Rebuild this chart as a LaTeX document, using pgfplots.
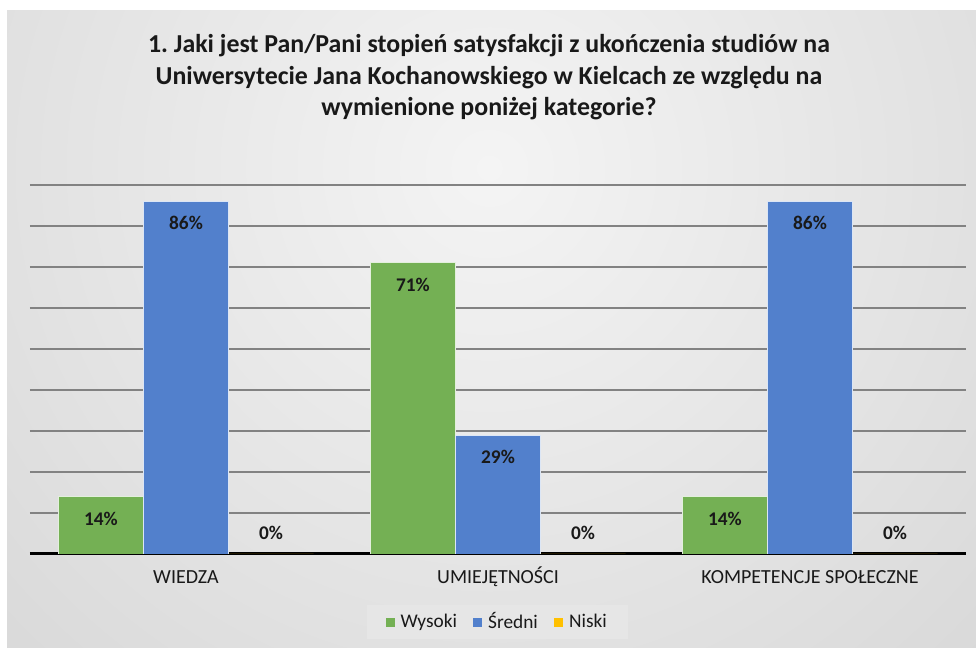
\documentclass[border=0pt]{standalone}
\usepackage{pgfplots}
\pgfplotsset{compat=1.18}
\usepackage{fontspec}
\setmainfont{Carlito}
\frenchspacing
\definecolor{cgreen}{RGB}{116,176,84}
\definecolor{cblue}{RGB}{82,128,204}
\definecolor{cyellow}{RGB}{255,192,0}
\definecolor{cgrid}{RGB}{130,130,130}
\definecolor{bgin}{RGB}{244,244,244}
\definecolor{bgout}{RGB}{192,192,192}
\definecolor{legfill}{RGB}{230,230,230}
\definecolor{txt}{RGB}{25,25,25}
\begin{document}
\begin{tikzpicture}
\useasboundingbox (0,0) rectangle (732pt,486pt);
\fill[white] (0,0) rectangle (732pt,486pt);
\begin{scope}
\clip (5.25pt,0pt) rectangle (732pt,477.75pt);
\shade[inner color=bgin, outer color=bgout] (367pt,360pt) circle (1000pt);
\end{scope}
\node[align=center, font=\fontsize{19.4}{23.25}\selectfont\bfseries, text=txt] at (366.75pt,428pt)
{1. Jaki jest Pan/Pani stopień satysfakcji z ukończenia studiów na\\[0.3pt]
Uniwersytecie Jana Kochanowskiego w Kielcach ze względu na\\[0.3pt]
wymienione poniżej kategorie?};
\begin{axis}[
  at={(22.5pt,70.5pt)}, anchor=south west,
  scale only axis, width=702pt, height=276.75pt,
  xmin=-0.5, xmax=2.5, ymin=0, ymax=90,
  ybar=0pt, bar width=0.2727,
  xtick={0,1,2},
  xticklabels={WIEDZA,UMIEJĘTNOŚCI,KOMPETENCJE SPOŁECZNE},
  xticklabel style={font=\fontsize{15}{18}\selectfont, text=txt, text height=10.5pt, text depth=3pt, yshift=-8pt},
  ytick={10,20,...,90}, yticklabels={},
  ymajorgrids, grid style={cgrid, line width=1pt},
  major tick length=0pt,
  axis x line*=bottom, axis y line*=left,
  x axis line style={-, black, line width=2.25pt},
  y axis line style={draw=none},
  /pgf/number format/assume math mode=true,
  point meta=y,
  nodes near coords={\pgfmathprintnumber{\pgfplotspointmeta}\%},
  every node near coord/.append style={font=\fontsize{14.5}{16}\selectfont\bfseries, text=txt, anchor=center},
  legend style={at={(0.4995,-0.184)}, anchor=center, draw=none, fill=legfill,
    legend columns=-1, font=\fontsize{14.5}{17}\selectfont, text=txt,
    inner xsep=14pt, inner ysep=4pt,
    /tikz/every odd column/.append style={column sep=3pt},
    /tikz/every even column/.append style={column sep=10pt}},
]
\addlegendimage{legend image code/.code={\fill[cgreen] (0pt,-3pt) rectangle (6pt,3pt);}}
\addlegendimage{legend image code/.code={\fill[cblue] (0pt,-3pt) rectangle (6pt,3pt);}}
\addlegendimage{legend image code/.code={\fill[cyellow] (0pt,-3pt) rectangle (6pt,3pt);}}
\addplot[fill=cgreen, draw=white!80!cgreen, line width=0.6pt, forget plot, bar shift=-0.2727,
  every node near coord/.append style={yshift=-16.5pt}]
  coordinates {(0,14) (1,71) (2,14)};
\addplot[fill=cblue, draw=white!80!cblue, line width=0.6pt, forget plot, bar shift=0,
  every node near coord/.append style={yshift=-16.5pt}]
  coordinates {(0,86) (1,29) (2,86)};
\addplot[fill=cyellow, draw=none, forget plot, bar shift=0.2727,
  every node near coord/.append style={yshift=15.75pt}]
  coordinates {(0,0) (1,0) (2,0)};
\legend{Wysoki,Średni,Niski}
\end{axis}
\end{tikzpicture}
\end{document}
